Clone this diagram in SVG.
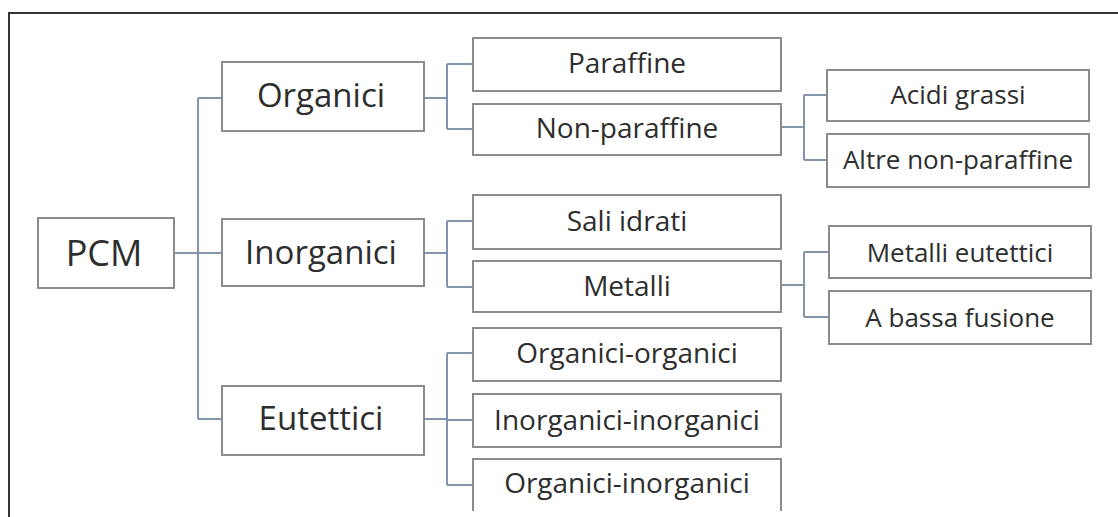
<svg xmlns="http://www.w3.org/2000/svg" width="1118" height="517" viewBox="0 0 1118 517">
<style>
.box{fill:#fff;stroke:#8c8c8c;stroke-width:2}
.con{fill:none;stroke:#8295ad;stroke-width:2}
.frame{fill:none;stroke:#333;stroke-width:2}
text{font-family:"Open Sans","Noto Sans",sans-serif;fill:#2e2e2e;text-anchor:middle}
.l0{font-size:36px}
.l1{font-size:33px}
.l2{font-size:28px}
.l3{font-size:26px}
</style>
<rect width="1118" height="517" fill="#fff"/>
<path class="frame" d="M9,517 V13 H1118"/>
<g id="connectors">
<path class="con" d="M174,253 H198 M198,98 V419 M198,98 H222 M198,253 H222 M198,419 H222"/>
<path class="con" d="M424,98 H447 M447,64 V129 M447,64 H473 M447,129 H473"/>
<path class="con" d="M781,127 H804 M804,95 V160 M804,95 H827 M804,160 H827"/>
<path class="con" d="M424,253 H447 M447,221 V287 M447,221 H473 M447,287 H473"/>
<path class="con" d="M781,285 H804 M804,252 V317 M804,252 H829 M804,317 H829"/>
<path class="con" d="M424,419 H447 M447,353 V485 M447,353 H473 M447,420 H473 M447,485 H473"/>
</g>
<g id="pcm"><rect class="box" x="38" y="218" width="136" height="70"/><text class="l0" x="104" y="266">PCM</text></g>
<g id="organici"><rect class="box" x="222" y="62" width="202" height="69"/><text class="l1" x="321" y="107">Organici</text></g>
<g id="inorganici"><rect class="box" x="222" y="219" width="202" height="67"/><text class="l1" x="321" y="264">Inorganici</text></g>
<g id="eutettici"><rect class="box" x="222" y="386" width="202" height="69"/><text class="l1" x="321" y="430">Eutettici</text></g>
<g id="paraffine"><rect class="box" x="473" y="38" width="308" height="53"/><text class="l2" x="627" y="73">Paraffine</text></g>
<g id="non-paraffine"><rect class="box" x="473" y="104" width="308" height="51"/><text class="l2" x="627" y="138">Non-paraffine</text></g>
<g id="sali-idrati"><rect class="box" x="473" y="195" width="308" height="54"/><text class="l2" x="627" y="231">Sali idrati</text></g>
<g id="metalli"><rect class="box" x="473" y="261" width="308" height="51"/><text class="l2" x="627" y="296">Metalli</text></g>
<g id="organici-organici"><rect class="box" x="473" y="328" width="308" height="53"/><text class="l2" x="627" y="363">Organici-organici</text></g>
<g id="inorganici-inorganici"><rect class="box" x="473" y="394" width="308" height="53"/><text class="l2" x="627" y="430">Inorganici-inorganici</text></g>
<g id="organici-inorganici"><path class="box" d="M473,511 V459 H781 V511"/><text class="l2" x="627" y="493">Organici-inorganici</text></g>
<g id="acidi-grassi"><rect class="box" x="827" y="70" width="262" height="51"/><text class="l3" x="958" y="104">Acidi grassi</text></g>
<g id="altre-non-paraffine"><rect class="box" x="827" y="134" width="262" height="53"/><text class="l3" x="958" y="169">Altre non-paraffine</text></g>
<g id="metalli-eutettici"><rect class="box" x="829" y="226" width="262" height="52"/><text class="l3" x="960" y="262">Metalli eutettici</text></g>
<g id="a-bassa-fusione"><rect class="box" x="829" y="291" width="262" height="53"/><text class="l3" x="960" y="327">A bassa fusione</text></g>
</svg>
